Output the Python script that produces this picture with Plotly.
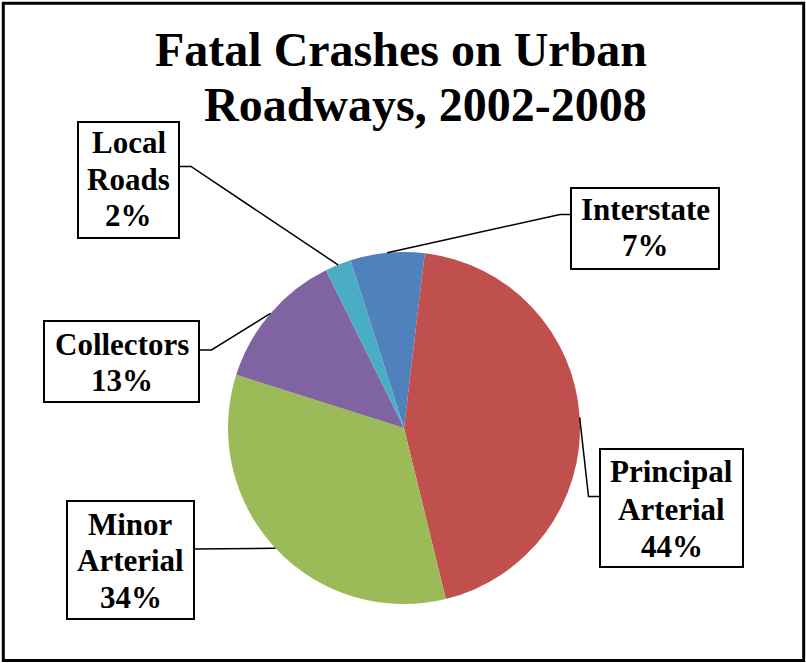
import math
import plotly.graph_objects as go

# ---- data ----
categories = ["Interstate", "Principal Arterial", "Minor Arterial", "Collectors", "Local Roads"]
label_lines = [["Interstate"], ["Principal", "Arterial"], ["Minor", "Arterial"], ["Collectors"], ["Local", "Roads"]]
shares = [6.8, 44.3, 33.7, 12.8, 2.4]
colors = ["#4F81BD", "#C0504D", "#9BBB59", "#8064A2", "#4BACC6"]
title_lines = ["Fatal Crashes on Urban", "Roadways, 2002-2008"]

# ---- layout constants (pixels) ----
W, H = 806, 663
CX, CY, R = 404, 428, 176
ROT = -17.7  # start angle of first slice, clockwise from 12 o'clock
FONT = "Liberation Serif, Times New Roman, Times, serif"
LFS = 31

def px(x):
    return x / W

def py(y):
    return 1 - y / H

boxes = {
    "Interstate": dict(box=(571, 188, 719, 269), base=[220, 256.5], elbow=(560, 214.5), attach=(571, 214.5)),
    "Principal Arterial": dict(box=(600, 449, 743, 567), base=[482.5, 520, 557.5], elbow=(588.5, 496.5), attach=(600, 496.5)),
    "Minor Arterial": dict(box=(67, 501, 194, 619), base=[535, 571, 608], elbow=None, attach=(194, 549)),
    "Collectors": dict(box=(44, 321, 199, 402), base=[355, 391.5], elbow=(211.5, 350), attach=(199, 350)),
    "Local Roads": dict(box=(78, 122, 179, 238), base=[153, 190, 226.5], elbow=(191, 166.5), attach=(179, 166.5)),
}

fig = go.Figure()
fig.add_trace(go.Pie(
    labels=categories,
    values=shares,
    sort=False,
    direction="clockwise",
    rotation=ROT,
    marker=dict(colors=colors, line=dict(width=0)),
    textinfo="none",
    hoverinfo="label+percent",
    showlegend=False,
    domain=dict(x=[px(CX - R), px(CX + R)], y=[py(CY + R), py(CY - R)]),
))

shapes = []
annotations = []

shapes.append(dict(type="rect", xref="paper", yref="paper",
                   x0=px(3.3), x1=px(803.7), y0=py(660.5), y1=py(3.3),
                   line=dict(color="black", width=3), fillcolor="rgba(0,0,0,0)"))

title_base = [66.5, 121.5]
TFS = 48
for text, base in zip(title_lines, title_base):
    annotations.append(dict(text=f"<b>{text}</b>", x=px(648), y=py(base - 0.35 * TFS), xref="paper", yref="paper",
                            xanchor="right", yanchor="middle", showarrow=False, borderpad=0,
                            font=dict(family=FONT, size=TFS, color="black")))

total = sum(shares)
start = ROT
for cat, lines, v in zip(categories, label_lines, shares):
    mid = math.radians(start + 360 * v / total / 2)
    start += 360 * v / total
    ex = CX + R * math.sin(mid)
    ey = CY - R * math.cos(mid)
    b = boxes[cat]
    l, t, r, btm = b["box"]
    shapes.append(dict(type="rect", xref="paper", yref="paper",
                       x0=px(l), x1=px(r), y0=py(btm), y1=py(t),
                       line=dict(color="black", width=2), fillcolor="white"))
    pts = [(ex, ey)]
    if b["elbow"]:
        pts.append(b["elbow"])
    pts.append(b["attach"])
    path = "M " + " L ".join(f"{px(x)},{py(y)}" for x, y in pts)
    shapes.append(dict(type="path", xref="paper", yref="paper", path=path,
                       line=dict(color="black", width=1.5)))
    texts = lines + [f"{round(v)}%"]
    cxb = (l + r) / 2
    for tx, base in zip(texts, b["base"]):
        annotations.append(dict(text=f"<b>{tx}</b>", x=px(cxb), y=py(base - 0.35 * LFS), xref="paper", yref="paper",
                                xanchor="center", yanchor="middle", showarrow=False, borderpad=0,
                                font=dict(family=FONT, size=LFS, color="black")))

fig.update_layout(
    width=W, height=H,
    margin=dict(l=0, r=0, t=0, b=0),
    paper_bgcolor="white", plot_bgcolor="white",
    shapes=shapes, annotations=annotations,
)

fig.write_html("out.html",
               config={"displayModeBar": False},
               post_script="document.body.style.margin='0';document.body.style.padding='0';document.body.style.overflow='hidden';")
